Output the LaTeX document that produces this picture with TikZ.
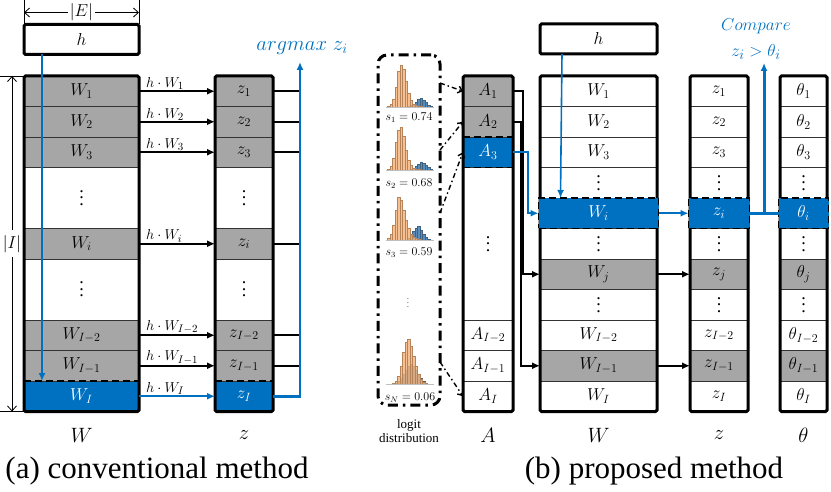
\documentclass[tikz,border=0pt]{standalone}
\usepackage{fontspec}
\setmainfont{Liberation Serif}
\usepackage{tikz}
\usetikzlibrary{arrows.meta,positioning,calc}
\definecolor{hlblue}{HTML}{0070C0}
\definecolor{cellgray}{HTML}{A6A6A6}
\definecolor{historange}{HTML}{F4B077}
\definecolor{histblue}{HTML}{5B8DBA}
\newcommand{\coldots}{\vbox{\baselineskip6.5pt\lineskiplimit0pt\hbox{.}\hbox{.}\hbox{.}}}

\begin{document}
\begin{tikzpicture}[x=1pt,y=-1pt,every node/.style={inner sep=0pt,outer sep=0pt},
  cell/.style={draw=black!80,line width=.8pt,minimum height=30.5pt,font=\fontsize{18}{18}\selectfont},
  gcell/.style={cell,fill=cellgray},
  bcell/.style={cell,fill=hlblue,text=white},
  colframe/.style={draw=black,line width=3pt,rounded corners=1.5pt},
  hbox/.style={draw=black,line width=3pt,rounded corners=1.5pt,minimum height=30pt,font=\fontsize{18}{18}\selectfont},
  dashline/.style={draw=black,line width=1.6pt,dash pattern=on 7pt off 4pt},
  arr/.style={-{Latex[length=8pt,width=7pt]},line width=2pt},
  barr/.style={arr,draw=hlblue,line width=2.2pt},
  ddarr/.style={-{Straight Barb[length=4pt,width=7pt]},line width=1.4pt,dash pattern=on 5pt off 3pt on 1.5pt off 3pt},
  dimarr/.style={{Straight Barb[length=5pt,width=9pt]}-{Straight Barb[length=5pt,width=9pt]},line width=.8pt},
  histbox/.style={draw=black,line width=3pt,rounded corners=9pt,dash pattern=on 10pt off 5pt on 2.5pt off 5pt},
  prodlbl/.style={font=\fontsize{15}{15}\selectfont,anchor=south west,xshift=7pt,yshift=1.5pt,pos=0},
  axislbl/.style={font=\fontsize{21}{21}\selectfont},
  caption/.style={font=\fontsize{31}{31}\selectfont}]
\useasboundingbox (0,0) rectangle (831,492);

\node[hbox,minimum width=115pt] (lh) at (81.5,39.5) {$h$};
\foreach \r/\t in {0/W_1,1/W_2,2/W_3,5/W_i,8/W_{I-2},9/W_{I-1}}
  \node[gcell,minimum width=115pt] (lw\r) at (81.5,91.25+30.5*\r) {$\t$};
\node[bcell,minimum width=115pt] (lw10) at (81.5,396.25) {$W_I$};
\node[cell,minimum width=115pt,minimum height=61pt] (lwd1) at (81.5,198) {\coldots};
\node[cell,minimum width=115pt,minimum height=61pt] (lwd2) at (81.5,289.5) {\coldots};
\foreach \r/\t in {0/z_1,1/z_2,2/z_3,5/z_i,8/z_{I-2},9/z_{I-1}}
  \node[gcell,minimum width=58pt] (lz\r) at (244,91.25+30.5*\r) {$\t$};
\node[bcell,minimum width=58pt] (lz10) at (244,396.25) {$z_I$};
\node[cell,minimum width=58pt,minimum height=61pt] (lzd1) at (244,198) {\coldots};
\node[cell,minimum width=58pt,minimum height=61pt] (lzd2) at (244,289.5) {\coldots};
\draw[colframe] (lw0.north west) rectangle (lw10.south east);
\draw[colframe] (lz0.north west) rectangle (lz10.south east);
\draw[dashline] (lw10.north west) -- (lw10.north east);
\draw[dashline] (lz10.north west) -- (lz10.north east);

\draw (lh.north west) -- ++(0,-24);
\draw (lh.north east) -- ++(0,-24);
\draw[dimarr] ([yshift=12pt]lh.north west) -- node[fill=white,inner xsep=2pt,font=\fontsize{16}{16}\selectfont] (elbl) {$|E|$} ([yshift=12pt]lh.north east);
\draw (lw0.north west) -- ++(-24,0);
\draw (lw10.south west) -- ++(-24,0);
\draw[dimarr] ([xshift=-12pt]lw0.north west) -- node[fill=white,inner ysep=5pt,font=\fontsize{16}{16}\selectfont] (ilbl) {$|I|$} ([xshift=-12pt]lw10.south west);

\foreach \r/\t in {0/1,1/2,2/3,5/i,8/{I-2},9/{I-1}}
  \draw[arr] (lw\r.east) -- node[prodlbl] {$h\cdot W_{\t}$} (lz\r.west);
\draw[barr,line width=1.6pt] (lw10.east) -- node[prodlbl] {$h\cdot W_I$} (lz10.west);

\coordinate (amax) at (300,62);
\foreach \r in {0,1,2,5,8,9}
  \draw[line width=2pt] (lz\r.east) -- (lz\r.east -| amax);
\draw[barr,line width=2.5pt] (lz10.east) -| (amax);
\node[text=hlblue,font=\fontsize{20}{20}\selectfont] (amaxlbl) at (302,48) {$argmax\;z_i$};
\draw[barr,line width=1.6pt] ([xshift=18pt]lh.south west) -- ([xshift=18pt]lw10.north west);

\node[axislbl] (lwname) at (81.5,435) {$W$};
\node[axislbl] (lzname) at (244,435) {$z$};
\node[caption] (capa) at (157,471) {(a) conventional method};

\node[histbox,minimum width=62pt,minimum height=350pt] (hists) at (409,230) {};
\foreach \by/\ol/\bl in {
  107/{1,3,8,20,36,42,38,26,14,7,3,2,1,1,0,0,0,0}/{0,0,0,0,0,0,0,0,1,2,3,5,8,9,7,5,2,1},
  170/{1,4,12,28,40,43,34,20,10,5,2,1,1,0,0,0,0,0}/{0,0,0,0,0,0,0,0,0,1,2,4,6,8,7,5,3,1},
  240/{2,6,15,30,43,40,30,20,12,6,3,2,1,0,0,0,0,0}/{0,0,0,0,0,0,0,0,2,5,9,12,14,10,6,3,1,0},
  384/{0,0,1,3,8,18,32,42,45,38,28,18,10,5,2,1,0,0}/{0,0,0,1,3,6,10,14,18,20,18,14,10,6,3,1,0,0}}{
  \foreach \h [count=\i] in \bl
    \filldraw[fill=histblue,draw=histblue!70!black,line width=.15pt] (385+2.5*\i,\by) rectangle ++(2.5,-\h);
  \foreach \h [count=\i] in \ol
    \filldraw[fill=historange,fill opacity=.8,draw=historange!75!black,line width=.15pt] (385+2.5*\i,\by) rectangle ++(2.5,-\h);
  \draw[gray!50,line width=.4pt] (386,\by) -- (434,\by);
}
\node[font=\fontsize{11.5}{11.5}\selectfont] (s1) at (409,118) {$s_1=0.74$};
\node[font=\fontsize{11.5}{11.5}\selectfont] (s2) at (409,184) {$s_2=0.68$};
\node[font=\fontsize{11.5}{11.5}\selectfont] (s3) at (409,253) {$s_3=0.59$};
\node[font=\fontsize{11.5}{11.5}\selectfont] (sn) at (410,398) {$s_N=0.06$};
\node[font=\fontsize{9}{9}\selectfont,text=black!70] (hdots) at (408,300) {$\vdots$};
\node[align=center,font=\fontsize{13}{14}\selectfont] (logit) at (409,431) {logit\\distribution};

\foreach \r/\t/\s in {0/A_1/gcell,1/A_2/gcell,2/A_3/bcell,8/A_{I-2}/cell,9/A_{I-1}/cell,10/A_I/cell}
  \node[\s,minimum width=50pt] (ra\r) at (488,91.25+30.5*\r) {$\t$};
\node[cell,minimum width=50pt,minimum height=152.5pt] (rad) at (488,243.75) {\coldots};
\draw[colframe] (ra0.north west) rectangle (ra10.south east);
\draw[dashline] (ra2.north west) -- (ra2.north east);
\draw[dashline] (ra2.south west) -- (ra2.south east);

\foreach \r/\t/\s in {0/W_1/cell,1/W_2/cell,2/W_3/cell,3/\coldots/cell,5/\coldots/cell,6/W_j/gcell,7/\coldots/cell,8/W_{I-2}/cell,9/W_{I-1}/gcell,10/W_I/cell}
  \node[\s,minimum width=117pt] (rw\r) at (598.5,91.25+30.5*\r) {$\t$};
\foreach \r/\t/\s in {0/z_1/cell,1/z_2/cell,2/z_3/cell,3/\coldots/cell,5/\coldots/cell,6/z_j/gcell,7/\coldots/cell,8/z_{I-2}/cell,9/z_{I-1}/gcell,10/z_I/cell}
  \node[\s,minimum width=58pt] (rz\r) at (719,91.25+30.5*\r) {$\t$};
\foreach \r/\t/\s in {0/\theta_1/cell,1/\theta_2/cell,2/\theta_3/cell,3/\coldots/cell,5/\coldots/cell,6/\theta_j/gcell,7/\coldots/cell,8/\theta_{I-2}/cell,9/\theta_{I-1}/gcell,10/\theta_I/cell}
  \node[\s,minimum width=47pt] (rt\r) at (803.5,91.25+30.5*\r) {$\t$};
\draw[colframe] (rw0.north west) rectangle (rw10.south east);
\draw[colframe] (rz0.north west) rectangle (rz10.south east);
\draw[colframe] (rt0.north west) rectangle (rt10.south east);
\node[bcell,minimum width=120pt,draw=black,line width=1.6pt,dash pattern=on 7pt off 4pt] (rw4) at (598.5,213.25) {$W_i$};
\node[bcell,minimum width=61pt,draw=black,line width=1.6pt,dash pattern=on 7pt off 4pt] (rz4) at (719,213.25) {$z_i$};
\node[bcell,minimum width=50pt,draw=black,line width=1.6pt,dash pattern=on 7pt off 4pt] (rt4) at (803.5,213.25) {$\theta_i$};

\node[hbox,minimum width=117pt] (rh) at (598.5,39) {$h$};
\draw[barr,line width=1.6pt] ([xshift=22pt]rh.south west) -- ([xshift=22pt]rw4.north west);

\draw[ddarr] ($(hists.north east)+(0,28)$) -- (ra0.west);
\draw[ddarr] ($(hists.north east)+(0,95)$) -- (ra1.west);
\draw[ddarr] ($(hists.north east)+(0,158)$) -- (ra2.west);
\draw[ddarr] ($(hists.north east)+(0,307)$) -- (ra10.west);

\draw[arr,line width=1.6pt] (ra0.east) -- ++(10,0) |- (rw6.west);
\draw[arr,line width=1.6pt] (ra1.east) -- ++(8,0) |- (rw9.west);
\draw[barr,line width=2.2pt] (ra2.east) -- ++(15,0) |- (rw4.west);

\draw[barr] (rw4.east) -- (rz4.west);
\draw[arr,line width=1.6pt] (rw6.east) -- (rz6.west);
\draw[arr,line width=1.6pt] (rw9.east) -- (rz9.west);
\draw[hlblue,line width=3pt] (rz4.east) -- (rt4.west);
\coordinate (cmptip) at (764,63);
\draw[barr,line width=3pt] (rz4.east -| cmptip) -- (cmptip);
\node[text=hlblue,align=center,font=\fontsize{19}{26}\selectfont] (cmplbl) at (756,39) {$Compare$\\$z_i>\theta_i$};

\node[axislbl] (raname) at (488,435) {$A$};
\node[axislbl] (rwname) at (598.5,435) {$W$};
\node[axislbl] (rzname) at (719,435) {$z$};
\node[axislbl] (rtname) at (803.5,435) {$\theta$};
\node[caption] (capb) at (654,471) {(b) proposed method};
\end{tikzpicture}
\end{document}
